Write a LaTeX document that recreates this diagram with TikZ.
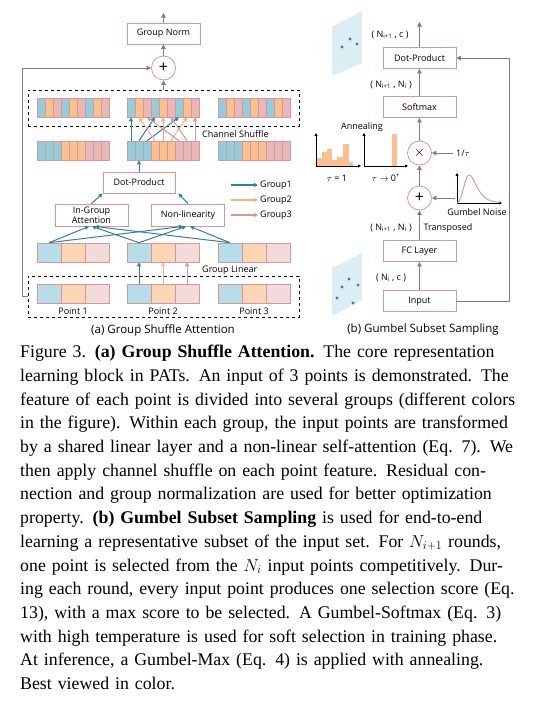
\documentclass[tikz,border=0pt]{standalone}
\usepackage{fontspec}
\setmainfont{Liberation Serif}
\newfontfamily\diagfont{Open Sans}
\usepackage{tikz}
\usetikzlibrary{arrows.meta, positioning, calc}

\definecolor{boxbd}{HTML}{D99694}
\definecolor{arrgray}{HTML}{7F7F7F}
\definecolor{cteal}{HTML}{31849B}
\definecolor{corng}{HTML}{F8B47C}
\definecolor{cpink}{HTML}{D99694}
\definecolor{grp0}{HTML}{92CDDC}
\definecolor{grp1}{HTML}{FAC090}
\definecolor{grp2}{HTML}{E6B9B8}
\definecolor{lgrp0}{HTML}{B7DEE8}
\definecolor{lgrp1}{HTML}{FCD5B4}
\definecolor{lgrp2}{HTML}{F2DCDB}
\definecolor{planecol}{HTML}{DAEEF3}
\definecolor{dotcol}{HTML}{31859C}
\definecolor{barcol}{HTML}{FAC090}

% one justified caption line
\newcommand{\capline}[1]{\hbox to 483pt{#1}}

\begin{document}
\begin{tikzpicture}[x=1pt, y=-1pt,
    font=\diagfont\fontsize{9}{10}\selectfont,
    box/.style={draw=boxbd, line width=0.8pt, fill=white, minimum width=73pt,
        minimum height=21pt, inner sep=1pt, align=center},
    opnode/.style={circle, draw=boxbd, line width=0.8pt, fill=white,
        minimum size=24pt, inner sep=0pt},
    cell/.style={draw=boxbd, line width=0.6pt, inner sep=0pt, minimum height=19pt},
    dashbox/.style={draw, dashed, line width=0.6pt, inner sep=0pt},
    garrow/.style={draw=arrgray, line width=1pt, -{Triangle[length=4.5pt,width=4.5pt]}},
    carrow/.style={line width=1pt, -{Triangle[length=4pt,width=4pt]}},
    axis/.style={line width=0.7pt, -{Triangle[length=3pt,width=3pt]}},
    lbl/.style={inner sep=0pt},
    subcap/.style={font=\diagfont\fontsize{11.5}{13}\selectfont}]
    \fill[white] (0,0) rectangle (537,704);
    \useasboundingbox (0,0) rectangle (537,704);

    % (a) Group Shuffle Attention
    \node[box] (gnorm) at (163.5,33.5) {Group Norm};
    \coordinate (outA) at (163.5,13);
    \node[opnode] (plusA) at (163.5,68) {\fontsize{16}{16}\selectfont +};
    \draw[garrow] (gnorm.north) -- (outA);
    \draw[garrow] (plusA.north) -- (gnorm.south);

    \node[dashbox, minimum width=271pt, minimum height=36pt] (shufbox) at (163.5,108) {};
    \node[dashbox, minimum width=271pt, minimum height=41pt] (inbox) at (163.5,296.5) {};

    % rows of point features
    \foreach \p/\bx in {1/37,2/127,3/218} {
        \foreach \k in {0,...,8} {
            \pgfmathtruncatemacro\ga{mod(\k,3)}
            \pgfmathtruncatemacro\gb{\k/3}
            \node[cell, minimum width=8pt, fill=grp\ga] (A\p-\k) at ({\bx+8*\k+4},107.5) {};
            \node[cell, minimum width=8pt, fill=grp\gb] (B\p-\k) at ({\bx+8*\k+4},150.5) {};
        }
        \foreach \k in {0,1,2} {
            \node[cell, minimum width=24pt, fill=lgrp\k] (C\p-\k) at ({\bx+24*\k+12},252.5) {};
            \node[cell, minimum width=24pt, fill=lgrp\k] (D\p-\k) at ({\bx+24*\k+12},293.5) {};
        }
        \node[lbl] (pt\p) at ({\bx+36},311) {Point \p};
    }

    % channel shuffle
    \foreach \g/\col in {0/cteal,1/corng,2/cpink} {
        \foreach \k in {0,1,2} {
            \pgfmathtruncatemacro\src{3*\g+\k}
            \pgfmathtruncatemacro\dst{3*\k+\g}
            \draw[carrow, \col] (B2-\src.north) -- (A2-\dst.south);
        }
    }
    \node[lbl, anchor=west] (shuflbl) at (202,134) {Channel Shuffle};
    \node[lbl, anchor=west] (linlbl) at (202,270) {Group Linear};

    \node[box, minimum width=72pt] (dotA) at (139,182.5) {Dot-Product};
    \node[box, minimum height=22pt] (iga) at (91.5,215) {In-Group\\Attention};
    \node[box, minimum height=22pt] (nonlin) at (188,215) {Non-linearity};
    \draw[carrow, cteal] (dotA.north) -- (B2-1.south);
    \draw[carrow, cteal] (iga.north) -- (dotA.south west);
    \draw[carrow, cteal] (nonlin.north) -- ([xshift=3pt]dotA.south east);

    % group linear and attention inputs
    \foreach \k/\col in {0/cteal,1/corng,2/cpink} {
        \draw[carrow, \col] (D2-\k.north) -- (C2-\k.south);
    }
    \foreach \p/\sa/\sb in {1/-2.5/-5, 2/0.5/-2, 3/3.5/2} {
        \draw[carrow, cteal] (C\p-0.north) -- ([xshift=\sa pt]iga.south);
        \draw[carrow, cteal] (C\p-0.north) -- ([xshift=\sb pt]nonlin.south);
    }

    % residual
    \draw[garrow] (shufbox.north) -- (plusA.south);
    \draw[garrow] (inbox.west) -- ++(-5,0) |- (plusA.west);

    % legend
    \foreach \g/\col/\y in {1/cteal/185,2/corng/200,3/cpink/215} {
        \node[lbl, anchor=west] (leg\g) at (260,\y) {Group\g};
        \coordinate (legs\g) at (231,\y);
        \draw[carrow, \col, line width=1.3pt, shorten >=2pt] (legs\g) -- (leg\g.west);
    }
    \node[subcap] (capA) at (163,330) {(a) Group Shuffle Attention};

    % (b) Gumbel Subset Sampling
    \node[box] (dotB) at (419.5,58) {Dot-Product};
    \node[box] (smax) at (419.5,107) {Softmax};
    \node[opnode] (mulB) at (419.5,153) {\fontsize{14}{14}\selectfont$\times$};
    \node[opnode] (plusB) at (419.5,198) {\fontsize{16}{16}\selectfont +};
    \node[box] (fcl) at (419.5,251) {FC Layer};
    \node[box] (inp) at (419.5,301) {Input};
    \coordinate (outB) at (419.5,22);
    \draw[garrow] (dotB.north) -- (outB);
    \draw[garrow] (smax) -- (dotB);
    \draw[garrow] (mulB) -- (smax);
    \draw[garrow] (plusB) -- (mulB);
    \draw[garrow] (fcl) -- (plusB);
    \draw[garrow] (inp) -- (fcl);
    \draw[garrow] (inp.east) -- ++(53,0) |- (dotB.east);

    \node[lbl, anchor=west] (tau) at (456,153) {1/$\tau$};
    \draw[garrow, shorten <=3pt] (tau.west) -- (mulB.east);

    % gumbel noise
    \coordinate (gsrc) at (455,198);
    \draw[garrow] (gsrc) -- (plusB.east);
    \draw[axis] (457,203) -- (457,173);
    \draw[axis] (457,203) -- (502,203);
    \draw[boxbd, line width=0.9pt] plot[domain=-2:5, samples=70, smooth]
        ({469.3+6.14*\x}, {203-76*exp(-(\x+exp(-\x)))});
    \node[lbl] (gnoise) at (477,212) {Gumbel Noise};

    % annealing histograms
    \foreach \xa/\xb/\h in {316.7/321.7/158, 321.7/326.7/152, 326.7/332.3/149,
        332.3/337.3/160, 337.3/343.3/157, 343.3/349/144, 349/353.3/162} {
        \fill[barcol] (\xa,165.5) rectangle (\xb,\h);
    }
    \fill[barcol] (392,165.5) rectangle (397,134);
    \draw[axis] (316,166) -- (316,133);
    \draw[axis] (316,166) -- (361,166);
    \draw[axis] (364,166) -- (364,133);
    \draw[axis] (364,166) -- (408,166);
    \node[lbl] (anneal) at (362,127) {Annealing};
    \node[lbl] (tau1) at (337,178) {$\tau$ = 1};
    \node[lbl] (tau0) at (386,178) {$\tau$ $\rightarrow$ 0\textsuperscript{+}};

    % shapes of the dimensions
    \node[lbl] (dimA) at (390,35) {( N\textsubscript{i+1} , c )};
    \node[lbl] (dimB) at (391,85) {( N\textsubscript{i+1} , N\textsubscript{i} )};
    \node[lbl] (dimC) at (391,228) {( N\textsubscript{i+1} , N\textsubscript{i} )};
    \node[lbl] (transp) at (448,228) {Transposed};
    \node[lbl] (dimD) at (391,278) {( N\textsubscript{i} , c )};

    % point sets
    \fill[planecol] (332,27) -- (362,11) -- (362,63) -- (332,76) -- cycle;
    \foreach \dx/\dy in {342/47, 350/39, 357/44} {
        \fill[dotcol] (\dx,\dy) circle (1.6);
    }
    \fill[planecol] (332,268) -- (362,253) -- (362,300) -- (332,316) -- cycle;
    \foreach \dx/\dy in {349/279, 342/287, 358/285, 337/298, 353/303} {
        \fill[dotcol] (\dx,\dy) circle (1.6);
    }
    \node[subcap] (capB) at (423,330) {(b) Gumbel Subset Sampling};

    % caption
    \node[anchor=north west, text width=483pt, inner sep=0pt,
        font=\rmfamily\fontsize{17.8}{23.7}\selectfont] (figcap) at (20,345) {%
        \capline{Figure 3. \textbf{(a) Group Shuffle Attention.} The core representation}
        \capline{learning block in PATs. An input of 3 points is demonstrated. The}
        \capline{feature of each point is divided into several groups (different colors}
        \capline{in the figure). Within each group, the input points are transformed}
        \capline{by a shared linear layer and a non-linear self-attention (Eq. 7). We}
        \capline{then apply channel shuffle on each point feature. Residual con-}
        \capline{nection and group normalization are used for better optimization}
        \capline{property. \textbf{(b) Gumbel Subset Sampling} is used for end-to-end}
        \capline{learning a representative subset of the input set. For $N_{i+1}$ rounds,}
        \capline{one point is selected from the $N_i$ input points competitively. Dur-}
        \capline{ing each round, every input point produces one selection score (Eq.}
        \capline{13), with a max score to be selected. A Gumbel-Softmax (Eq. 3)}
        \capline{with high temperature is used for soft selection in training phase.}
        \capline{At inference, a Gumbel-Max (Eq. 4) is applied with annealing.}
        \hbox{Best viewed in color.}};
\end{tikzpicture}
\end{document}
